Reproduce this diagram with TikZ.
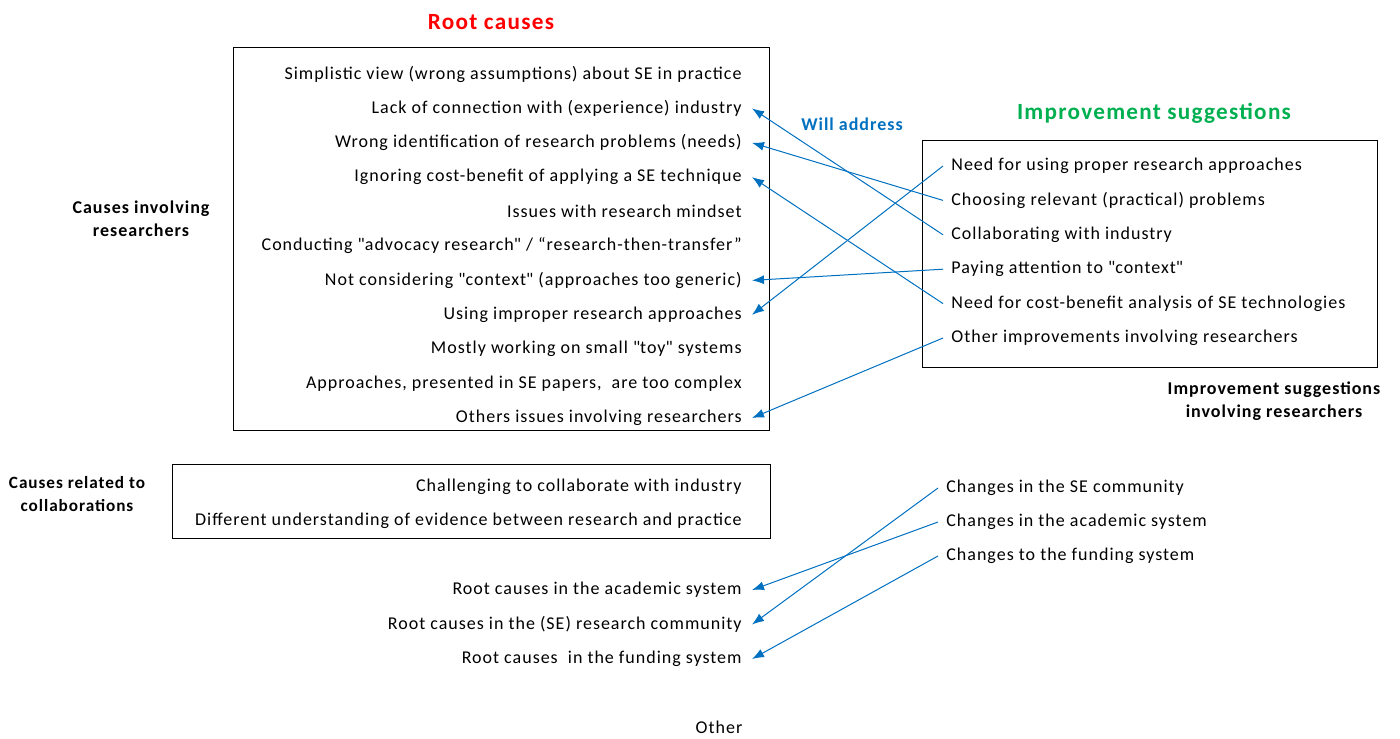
\documentclass[tikz,border=0pt]{standalone}
\usepackage{fontspec}
\setmainfont{Carlito}[LetterSpace=5.5]
\usetikzlibrary{arrows.meta}
\definecolor{addressblue}{RGB}{0,112,192}
\definecolor{suggestgreen}{RGB}{0,176,80}

\begin{document}
\begin{tikzpicture}[x=0.5pt, y=-0.5pt,
    cause/.style={anchor=east, inner xsep=5pt, inner ysep=0pt, font=\fontsize{9}{11}\selectfont},
    improvement/.style={anchor=west, inner xsep=4pt, inner ysep=0pt, font=\fontsize{9}{11}\selectfont},
    group/.style={align=center, font=\bfseries\fontsize{9}{11.5}\selectfont},
    heading/.style={font=\bfseries\fontsize{11.6}{14}\selectfont},
    address/.style={draw=addressblue, line width=0.5pt, -{Latex[length=6pt, width=4.5pt]}}]

            \useasboundingbox (0,0) rectangle (1400,738);

            \node[heading, red] (rootcauses) at (491,22) {Root causes};
            \node[heading, suggestgreen] (suggestions) at (1154,113) {Improvement suggestions};
            \node[font=\bfseries\fontsize{9}{11}\selectfont, addressblue] (willaddress) at (852,124) {Will address};

            \draw[line width=0.5pt] (233,48) rectangle (769,430);
            \draw[line width=0.5pt] (922,140) rectangle (1377,367);
            \draw[line width=0.5pt] (172,464) rectangle (770,538);

            \node[group] (researchers) at (141,219) {Causes involving\\researchers};
            \node[group, font=\bfseries\fontsize{8.6}{11.5}\selectfont] (collaborations) at (77,494) {Causes related to\\collaborations};
            \node[group] (involving) at (1274,401) {Improvement suggestions\\involving researchers};

            \node[cause] (simplistic) at (752,74) {Simplistic view (wrong assumptions) about SE in practice};
            \node[cause] (connection) at (752,108.4) {Lack of connection with (experience) industry};
            \node[cause] (identification) at (752,142.8) {Wrong identification of research problems (needs)};
            \node[cause] (costbenefit) at (752,177.2) {Ignoring cost-benefit of applying a SE technique};
            \node[cause] (mindset) at (752,211.6) {Issues with research mindset};
            \node[cause] (advocacy) at (752,246) {Conducting \textquotedbl advocacy research\textquotedbl\ / “research-then-transfer”};
            \node[cause] (context) at (752,280.4) {Not considering \textquotedbl context\textquotedbl\ (approaches too generic)};
            \node[cause] (improper) at (752,314.8) {Using improper research approaches};
            \node[cause] (toy) at (752,349.2) {Mostly working on small \textquotedbl toy\textquotedbl\ systems};
            \node[cause] (complex) at (752,383.6) {Approaches, presented in SE papers,\ \ are too complex};
            \node[cause] (otherissues) at (752,418) {Others issues involving researchers};

            \node[cause] (challenging) at (752,487) {Challenging to collaborate with industry};
            \node[cause] (evidence) at (752,521) {Different understanding of evidence between research and practice};

            \node[cause] (academic) at (752,590) {Root causes in the academic system};
            \node[cause] (community) at (752,624.5) {Root causes in the (SE) research community};
            \node[cause] (funding) at (752,659) {Root causes\ \ in the funding system};

            \node[improvement] (needproper) at (943,166) {Need for using proper research approaches};
            \node[improvement] (choosing) at (943,200.4) {Choosing relevant (practical) problems};
            \node[improvement] (collaborating) at (943,234.8) {Collaborating with industry};
            \node[improvement] (attention) at (943,269.2) {Paying attention to \textquotedbl context\textquotedbl};
            \node[improvement] (needcost) at (943,303.6) {Need for cost-benefit analysis of SE technologies};
            \node[improvement] (otherimprove) at (943,338) {Other improvements involving researchers};

            \node[improvement] (sechange) at (938,488) {Changes in the SE community};
            \node[improvement] (academicchange) at (938,522) {Changes in the academic system};
            \node[improvement] (fundingchange) at (938,556) {Changes to the funding system};

            \node[font=\fontsize{9}{11}\selectfont] (other) at (719,727) {Other};

            \draw[address] (needproper.west) -- (improper.east);
            \draw[address] (choosing.west) -- (identification.east);
            \draw[address] (collaborating.west) -- (connection.east);
            \draw[address] (attention.west) -- (context.east);
            \draw[address] (needcost.west) -- (costbenefit.east);
            \draw[address] (otherimprove.west) -- (otherissues.east);

            \draw[address] (sechange.west) -- (community.east);
            \draw[address] (academicchange.west) -- (academic.east);
            \draw[address] (fundingchange.west) -- (funding.east);

\end{tikzpicture}
\end{document}
